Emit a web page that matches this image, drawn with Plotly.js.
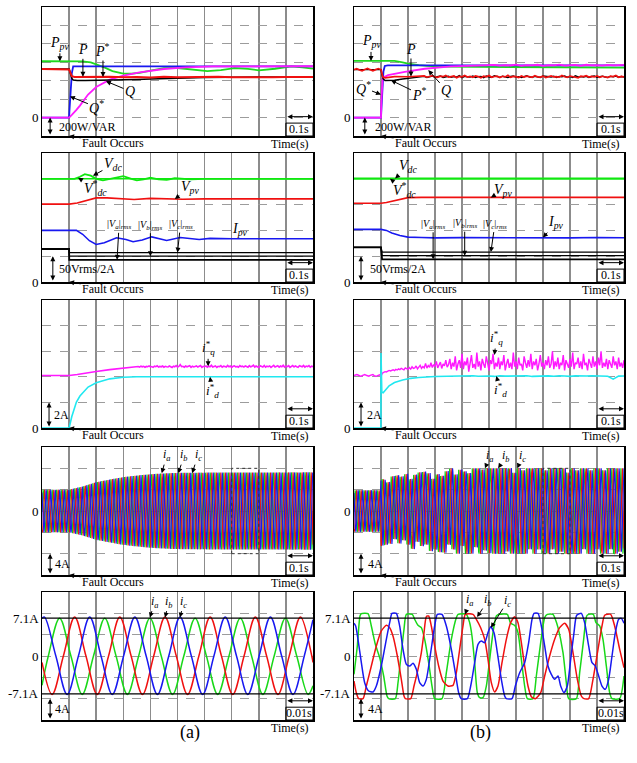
<!DOCTYPE html>
<html><head><meta charset="utf-8">
<script src="https://cdn.plot.ly/plotly-3.0.1.min.js"></script>
<style>html,body{margin:0;padding:0;background:#fff;}#chart{width:637px;height:763px;}</style>
</head><body><div id="chart"></div>
<script>
// ================= DATA =================
// ---- Row 1 (a): powers, W / VAR ----
const tPpvA = [0,0.10,0.15,0.18,0.20,0.23,0.26,0.30,0.33,0.36,0.40,0.45,0.50,0.55,0.61,0.66,0.71,0.76,0.80,0.86,0.92,0.96,1.00];
const PpvA  = [611,611,610,598,578,545,505,478,476,486,510,536,538,522,503,515,537,528,513,530,556,545,532];
const tQrefA = [0,0.100,0.101,0.103,0.106,0.110,0.115,1.0];
const QrefA  = [0,0,60,190,300,480,556,556];
const tQA = [0,0.100,0.110,0.120,0.127,0.140,0.152,0.170,0.200,0.250,0.300,0.360,0.450,0.530,0.630,1.0];
const QA  = [0,0,30,58,84,130,175,250,331,411,455,491,527,545,555,557];
const tPA = [0,0.095,0.100,0.103,0.106,0.110,0.120,0.150,0.200,0.250,0.300,0.350,0.400,0.450,0.500,0.550,0.600,0.650,0.700,0.750,0.800,0.850,0.900,0.950,1.0];
const PA  = [527,527,522,500,470,450,440,442,438,443,437,441,436,442,438,441,437,443,438,436,442,438,441,437,440];
const tPrefA = [0,0.100,0.103,0.106,0.110,0.115,0.130,0.160,0.200,0.250,0.300,0.350,0.400,0.450,0.500,0.550,0.600,0.700,0.800,1.0];
const PrefA  = [527,527,500,460,425,408,403,402,403,405,408,413,418,424,429,433,436,438,440,440];

// ---- Row 1 (b) ----
const tPpvB = [0,0.15,0.18,0.20,0.24,0.27,0.33,1.0];
const PpvB  = [615,615,600,586,570,560,553,541];
const tQrefB = [0,0.100,0.102,0.105,0.109,0.114,0.125,1.0];
const QrefB  = [0,0,120,330,500,560,567,567];
const tQB = [0,0.100,0.101,0.103,0.106,0.126,0.188,0.262,0.360,0.480];
const QB  = [0,0,150,350,431,460,497,530,556,567];
const QBripple = [572,563,570,565,574,562,569,566,573,561,570,567,575,563,568,571,562,573,566,570,564,572,567,569,571]; // from t=0.52, every 0.02 s
const tPB = [0,0.01,0.02,0.03,0.04,0.05,0.06,0.07,0.08,0.09,0.10,0.103,0.107,0.115,0.13,0.15,0.20];
const PB  = [520,530,518,508,522,533,520,508,520,532,520,470,440,430,438,445,443];
const PBnoise = [446,452,438,447,455,441,436,449,444,458,439,445,451,433,447,442,456,440,448,437,
  452,445,431,449,443,457,438,446,450,435,448,441,459,436,447,444,433,452,440,449,
  446,437,455,442,439,450,434,447,453,441,445,438,456,443,436,451,447,440,432,449,
  444,454,439,446,441,453,437,448,442,435,450,445,457,438,446,441]; // from t=0.25, every 0.01 s
const tPrefB = [0,0.100,0.103,0.108,0.115,0.130,0.150,0.180,0.210,0.240];
const PrefB  = [520,520,470,420,402,400,405,418,430,440];
const PrefBnoise = [440,447,435,444,450,438,445,452,436,443,449,437,446,440,455,434,448,442,439,451,
  436,444,447,433,450,441,438,453,445,437,449,442,435,446,451,439,444,436,448,454,
  440,437,447,443,435,452,446,439,441,449,434,447,442,450,438,445,436,453,441,444,
  439,448,435,446,452,437,443,449,440,436,447,442,451,438,445,440]; // from t=0.25, every 0.01 s

// ---- Row 2: voltages (V) and PV current (A); 50 V per div = 2 A per div ----
const V_PER_A = 25;
const tVdcA = [0,0.12,0.14,0.158,0.18,0.20,0.225,0.26,0.30,0.33,0.35,0.375,0.40,0.43,0.46,0.49,0.52,0.55,0.60,1.0];
const VdcA  = [200,200,204,209,206,200,197,201,205,200,197,199,202,199,198,201,200,199,200,200];
const tVdcRef = [0,1.0];
const VdcRef  = [200,200];
const tVpvA = [0,0.10,0.13,0.16,0.20,0.24,0.28,0.34,0.40,0.45,0.52,0.60,1.0];
const VpvA  = [151,151,153,157,163,163,161.5,160,162,161,160.5,161,161];
const tIpvA = [0,0.127,0.15,0.175,0.20,0.23,0.275,0.31,0.336,0.37,0.405,0.435,0.46,0.51,0.55,0.58,0.62,0.66,0.70,1.0];
const IpvA  = [4.0,4.0,3.7,3.2,2.91,3.05,3.43,3.3,3.12,3.25,3.5,3.35,3.22,3.45,3.35,3.3,3.38,3.34,3.35,3.35];
const tVrmsA = [0,0.1,0.1005,1.0];
const VaA = [64,64,43,43], VbA = [64,64,50,50], VcA = [64,64,57,57];
const tVdcB = [0,1.0];
const VdcB  = [200.5,200.5];
const tVpvB = [0,0.10,0.12,0.15,0.18,0.20,0.25,1.0];
const VpvB  = [152.5,152.5,154,158,162,163.5,164,164];
const tIpvB = [0,0.10,0.12,0.14,0.17,0.20,0.25,0.30,0.40,0.50,0.60,0.70,0.80,0.90,1.0];
const IpvB  = [4.08,4.08,4.0,3.8,3.6,3.48,3.45,3.42,3.44,3.43,3.45,3.44,3.42,3.45,3.43];
const tVrmsB = [0,0.1,0.104,1.0];
const VaB = [67,67,44,44], VbB = [67,67,51,51], VcB = [67,67,58,58];

// ---- Row 3: current references (A) ----
const tIqA0 = [0,0.05,0.10,0.13,0.16,0.20,0.25,0.30,0.35];
const IqA0  = [4.10,4.10,4.10,4.18,4.30,4.42,4.56,4.68,4.75];
const IqAnoise = [4.80,4.76,4.83,4.78,4.82,4.75,4.81,4.79,4.85,4.77,4.80,4.74,4.83,4.79,4.86,4.76,4.81,4.78,4.84,4.75,
  4.82,4.79,4.77,4.84,4.80,4.73,4.83,4.78,4.88,4.76,4.81,4.95,4.79,4.82,4.75,4.84,4.78,4.80,4.86,4.74,
  4.83,4.77,4.81,4.85,4.76,4.80,4.88,4.74,4.82,4.79,4.85,4.75,4.83,4.78,4.90,4.76,4.81,4.84,4.73,4.82,
  4.79,4.87,4.75,4.83,4.80,4.76,4.89,4.78,4.84,4.74,4.82,4.86,4.77,4.81,4.75,4.88,4.79,4.83,4.76,4.85,
  4.80,4.74,4.87,4.78,4.82,4.91,4.76,4.84,4.79,4.73,4.86,4.80,4.77,4.88,4.75,4.83,4.79,4.85,4.74,4.82,
  4.89,4.77,4.81,4.86,4.75,4.84,4.78,4.90,4.76,4.83,4.80,4.87,4.74,4.82,4.88,4.77,4.85,4.79,4.75,4.86,
  4.81,4.78,4.89,4.76,4.84,4.80,4.87,4.75,4.83,4.79]; // from t=0.355, every 0.005 s
const tIdA = [0,0.10,0.11,0.12,0.127,0.14,0.152,0.17,0.20,0.25,0.30,0.35,1.0];
const IdA  = [0,0,0.9,1.6,2.03,2.5,2.8,3.2,3.53,3.84,3.97,4.0,4.0];
const IqBpre = [4.10,4.15,4.18,4.14,4.07,4.04,4.09,4.16,4.18,4.12,4.06,4.05,4.11,4.17,4.17,4.10,4.05,4.07,4.14,4.16,4.05];
const IqBrise = [4.28,4.35,4.40,4.38,4.45,4.50,4.46,4.52,4.55,4.49,4.58,4.53,4.62,4.56,4.66,4.60,4.55,4.70,4.62,4.58,
  4.72,4.60,4.78,4.65,4.70,4.85,4.62,4.76,4.90,4.66,4.80,4.70,5.05,4.68,4.88,4.75,5.10,4.72,4.95,4.80,
  5.20,4.70,4.95,5.15,4.65,5.00,4.85,5.30,4.75,4.95];
const IqBnoise = [5.4,4.6,5.1,4.8,5.6,4.5,5.0,5.3,4.7,5.8,4.6,5.2,4.9,5.5,4.4,5.1,5.7,4.7,5.0,4.6,
  5.9,4.8,5.2,4.5,5.4,5.0,4.7,5.6,4.9,4.5,5.3,5.0,5.8,4.6,5.1,4.8,5.5,4.6,5.2,4.9,
  5.7,4.5,5.0,5.4,4.7,5.1,4.6,5.9,4.8,5.2,4.6,5.5,4.9,5.0,4.5,5.6,5.1,4.7,5.3,4.8,
  5.8,4.6,5.2,4.9,5.4,4.5,5.0,5.7,4.8,5.1,4.6,5.3,4.9,5.6,4.7,5.0,6.0,4.6,5.2,4.8,
  5.5,4.6,5.1,4.9,5.7,4.5,5.3,5.0,4.7,5.4,4.8,5.9,4.6,5.1,5.0,5.5,4.7,5.2,4.6,5.8,
  4.9,5.1,4.5,5.4,5.0,4.7,5.6,4.8,5.2,4.6,5.5,4.9,6.0,4.7,5.1,4.8,5.4,4.6,5.3,5.0,
  4.7,5.6,4.9,5.2,4.6,5.5,4.8,5.1,4.7,5.3]; // IqB sampled every 0.005 s from 0
const tIdB = [0,0.0998,0.100,0.101,0.103,0.108,0.115,0.13,0.15,0.18,0.21,0.24,0.30,0.36,0.40];
const IdB  = [0,0,5.85,3.6,2.8,2.75,2.9,3.3,3.55,3.75,3.88,3.95,4.02,4.06,4.07];
const IdBnoise = [4.05,4.08,4.04,4.07,4.06,4.03,4.08,4.05,4.07,4.04,4.06,4.08,4.03,4.06,4.05,4.07,4.04,4.08,4.06,4.03,
  4.07,4.05,4.06,4.08,4.05,4.06,4.04,3.82,4.05,4.06]; // from t=0.42, every 0.02 s

// ---- Row 4: 60 Hz phase currents, amplitude envelopes (A) ----
const F_GRID = 60;
const envTa = [0,0.10,0.15,0.20,0.25,0.30,0.35,0.40,0.45,0.50,0.60,1.0];
const envAa = [4.0,4.0,4.6,5.4,5.9,6.35,6.65,6.9,7.05,7.15,7.2,7.25];
const envTb = [0,0.0999,0.100,0.12,0.15,0.20,0.25,0.30,0.35,0.40,0.45,0.50,0.60,1.0];
const envAb = [3.9,3.9,6.6,6.3,6.6,7.0,7.3,7.6,7.9,8.2,8.5,8.8,9.0,9.0];
const clipB = 8.0;
const cycleVarB = [1,1,1,1,1,1,0.95,0.85,1.0,0.9,0.8,1.0,0.92,1.0,0.85,0.95,1.0,0.8,1.0,0.9,0.95,0.8,1.0,0.9,
  0.85,1.0,0.95,0.8,1.0,0.9,1.0,0.85,0.95,1.0,0.8,0.95,0.9,1.0,0.85,1.0,0.95,0.8,1.0,0.9,0.85,1.0,0.95,0.8,
  0.9,1.0,0.85,0.95,1.0,0.8,0.95,1.0,0.9,0.85,1.0,0.9];

// ---- Row 5 (a): zoomed phase currents, time in ms, A ----
const tIaZa = [0,2.33,6.5,10.67,14.83,19.0,23.17,27.33,31.5,35.67,39.83,44.0,48.17,52.33,56.5,60.67,64.83,69.0,73.17,77.33,81.5,85.67,89.83,94.0,98.17,100];
const IaZa  = [-5.5,0,7.1,0,-7.2,0,7.1,0,-7.2,0,7.1,0,-7.2,0,7.1,0,-7.2,0,7.1,0,-7.2,0,7.1,0,-7.2,-5.6];
const tIbZa = [0,3.72,7.89,12.06,16.22,20.39,24.56,28.72,32.89,37.06,41.22,45.39,49.56,53.72,57.89,62.06,66.22,70.39,74.56,78.72,82.89,87.06,91.22,95.39,99.56,100];
const IbZa  = [-1.2,-7.2,0,7.3,0,-7.2,0,7.3,0,-7.2,0,7.3,0,-7.2,0,7.3,0,-7.2,0,7.3,0,-7.2,0,7.3,0,-1.2];
const tIcZa = [0,0.94,5.11,9.28,13.44,17.61,21.78,25.94,30.11,34.28,38.44,42.61,46.78,50.94,55.11,59.28,63.44,67.61,71.78,75.94,80.11,84.28,88.44,92.61,96.78,100];
const IcZa  = [7.1,7.3,0,-7.2,0,7.3,0,-7.2,0,7.3,0,-7.2,0,7.3,0,-7.2,0,7.3,0,-7.2,0,7.3,0,-7.2,0,6.8];

// ---- Row 5 (b): zoomed distorted phase currents, time in ms, A ----
const tIaZb = [0,1.23,2.22,2.72,5.19,6.42,7.90,9.51,10.99,12.22,12.84,15.31,16.30,17.53,18.52,19.38,21.60,22.47,23.70,24.94,26.17,27.65,28.89,29.88,32.59,34.20,36.05,37.90,38.52,41.60,42.84,43.70,44.69,45.68,46.54,47.78,49.01,50.25,51.48,52.72,53.95,56.79,58.02,59.51,60.74,61.98,63.21,64.20,66.30,67.53,69.14,70.62,71.60,73.70,74.57,75.56,77.41,78.64,79.51,82.35,83.58,85.06,86.17,86.91,88.64,89.63,90.99,92.22,93.46,94.69,95.56,98.40,100];
const IaZb  = [-3.44,1.88,7.5,7.94,7.94,5.63,2.19,-0.31,-3.75,-7.5,-8.0,-8.0,-5.0,0.63,5.0,7.81,7.81,6.88,5.75,5.31,3.13,-1.25,-5.63,-8.0,-8.0,-3.13,3.13,7.19,7.81,7.81,6.25,3.75,-1.25,-6.88,-7.81,-7.81,-5.63,-0.63,4.38,7.5,7.81,7.81,6.13,5.75,4.38,-0.63,-5.63,-8.0,-8.0,-3.75,2.5,7.19,7.81,7.81,6.88,5.31,0.63,-5.0,-8.0,-8.0,-3.13,3.13,7.5,7.81,7.81,6.25,5.63,3.13,-1.88,-6.88,-8.0,-8.0,-3.75];
const tIbZb = [0,0.86,1.73,3.33,4.57,6.42,8.27,10.12,11.98,13.21,14.44,16.05,17.53,18.52,19.01,20.99,22.22,23.70,24.94,25.93,26.79,27.65,28.64,29.88,31.36,32.96,34.81,36.67,37.90,39.14,40.37,41.23,44.07,45.31,46.91,48.40,49.63,50.86,52.10,53.33,54.81,56.42,58.02,59.51,60.74,61.98,63.21,64.44,65.68,67.16,69.14,70.62,72.47,74.32,76.17,78.02,79.51,81.11,82.72,84.20,85.19,86.91,88.52,90.37,91.85,92.84,95.06,96.54,98.40,100];
const IbZb  = [-4.69,-6.88,-8.0,-8.0,-5.63,-1.88,1.88,4.69,5.75,5.31,3.75,0,-4.38,-7.5,-8.0,-8.0,-5.63,-2.5,0.63,4.38,7.38,7.5,5.63,1.88,-1.88,-4.69,-5.63,-5.5,-3.13,1.25,5.63,7.81,7.81,6.88,5.31,3.13,-0.63,-5.0,-6.75,-5.63,-1.25,3.13,6.25,7.38,6.25,2.5,-1.88,-5.63,-7.63,-8.0,-6.88,-3.75,0,3.13,5.31,6.13,5.0,0.63,-4.38,-7.5,-8.0,-8.0,-4.38,1.25,5.63,7.63,7.81,5.63,1.25,-2.19];
const tIcZb = [0,0.62,1.48,2.72,3.95,5.43,7.04,8.27,10.12,11.98,13.21,14.07,15.68,16.91,18.15,19.38,20.62,21.85,23.09,24.32,25.56,26.79,28.40,29.88,30.86,32.59,34.20,36.05,37.53,38.77,39.75,41.98,43.21,44.69,45.93,47.16,48.40,49.63,50.62,51.85,53.09,54.57,55.80,56.42,58.52,59.75,61.36,63.21,64.69,65.93,66.67,68.15,69.38,70.62,71.85,73.09,74.32,75.56,76.54,77.78,79.01,80.25,81.48,82.47,84.20,85.43,86.91,88.15,89.38,90.62,91.85,93.09,94.32,95.56,96.79,98.02,99.01,100];
const IcZb  = [6.13,5.63,3.13,-1.25,-5.0,-6.56,-6.75,-5.63,-1.88,3.13,6.25,8.0,8.0,5.63,1.25,-1.56,-1.88,-1.38,-2.5,-5.0,-5.63,-4.38,0.63,5.63,7.81,7.81,5.63,1.25,-3.13,-6.88,-8.0,-8.0,-5.63,-1.25,2.19,2.81,2.5,4.38,5.5,4.38,0.63,-4.38,-7.5,-8.0,-8.0,-5.63,-3.13,-1.25,2.5,6.88,8.0,8.0,5.63,1.88,-1.88,-3.44,-4.38,-3.75,-5.63,-6.88,-5.63,-0.63,4.38,7.63,8.0,6.25,1.88,-1.25,-1.88,-3.75,-5.63,-6.25,-4.38,0,4.38,6.88,7.06,6.13];
const refLevels5 = [7.1, -7.1];

// ================= HELPERS =================
const W = 637, H = 763;
const COLS = [[42, 313], [354, 624]];
const ROWS = [[7, 136], [153, 282], [300, 428], [447, 575], [592, 720]];
const FONT = 'Liberation Serif, Times New Roman, serif';
const GREEN = '#1fd81f', GREEN2 = '#10e810', RED = '#f01010', BLUE = '#1818f0', MAG = '#ff18ff', CYAN = '#20e8f0';

function seq(t0, dt, n){ const a=[]; for(let i=0;i<n;i++) a.push(+(t0+i*dt).toFixed(6)); return a; }
function interp(xs, ys, x){ if(x<=xs[0]) return ys[0]; for(let i=1;i<xs.length;i++){ if(x<=xs[i]){ const f=(x-xs[i-1])/(xs[i]-xs[i-1]); return ys[i-1]+f*(ys[i]-ys[i-1]); } } return ys[ys.length-1]; }
function axId(k){ return k===1 ? '' : String(k); }

const layout = {width:W, height:H, margin:{l:0,r:0,t:0,b:0}, paper_bgcolor:'#fff', plot_bgcolor:'#fff',
  showlegend:false, hovermode:false, annotations:[], shapes:[]};
const yCfg = [{range:[-200,1200], dtick:200, tick0:-200}, {range:[0,250], dtick:50, tick0:0},
  {range:[0,10], dtick:2, tick0:0}, {range:[-12,12], dtick:4, tick0:-12}, {range:[-12,12], dtick:4, tick0:-12}];
for (let r=0;r<5;r++) for (let c=0;c<2;c++){
  const k=r*2+c+1, id=axId(k);
  layout['xaxis'+id] = Object.assign({domain:[COLS[c][0]/W, COLS[c][1]/W], anchor:'y'+id, tick0:0,
    showgrid:true, gridcolor:'#8c8c8c', gridwidth:1.5, showline:true, mirror:true, linecolor:'#000', linewidth:1.5,
    showticklabels:false, ticks:'', zeroline:false, fixedrange:true}, r===4 ? {range:[0,100], dtick:10} : {range:[0,1], dtick:0.1});
  layout['yaxis'+id] = Object.assign({domain:[1-ROWS[r][1]/H, 1-ROWS[r][0]/H], anchor:'x'+id,
    showgrid:true, gridcolor:'#9c9c9c', griddash:'dash', gridwidth:1, showline:true, mirror:true, linecolor:'#000', linewidth:1.5,
    showticklabels:false, ticks:'', zeroline:false, fixedrange:true}, yCfg[r]);
}

const traces = [];
function tr(k, x, y, color, width, shape, smoothing){
  const id=axId(k);
  traces.push({type:'scatter', mode:'lines', x, y, xaxis:'x'+id, yaxis:'y'+id,
    line:{color, width, shape:shape||'linear', smoothing:smoothing||1}, hoverinfo:'skip'});
}
function scaleY(arr, f){ return arr.map(v=>v*f); }

function lab(k, x, y, text, ax, ay, size){
  const id=axId(k);
  layout.annotations.push({xref:'x'+id, yref:'y'+id, x, y, text, ax, ay, showarrow:true, arrowhead:2,
    arrowsize:1, arrowwidth:1, arrowcolor:'#000', font:{family:FONT, size:size||13, color:'#000'}});
}
function scaleBar(k, fx, y0, y1, text, tx){
  const id=axId(k);
  layout.annotations.push({xref:'x'+id+' domain', yref:'y'+id, x:fx, y:y1, axref:'x'+id+' domain', ayref:'y'+id,
    ax:fx, ay:y0, text:'', showarrow:true, arrowhead:2, startarrowhead:2, arrowside:'end+start',
    arrowsize:1, startarrowsize:1, arrowwidth:1, arrowcolor:'#000', font:{family:FONT, size:12, color:'#000'}});
  layout.annotations.push({xref:'x'+id+' domain', yref:'y'+id, x:tx, y:(y0+y1)/2, text, showarrow:false,
    xanchor:'left', font:{family:FONT, size:12, color:'#000'}});
}
function timeScale(k, x0, x1, text){
  const id=axId(k);
  layout.shapes.push({type:'rect', xref:'x'+id, yref:'y'+id+' domain', x0, x1, y0:0, y1:0.1, line:{color:'#000', width:1}});
  layout.annotations.push({xref:'x'+id, yref:'y'+id+' domain', x:x1, y:0.15, axref:'x'+id, ayref:'y'+id+' domain',
    ax:x0, ay:0.15, text:'', showarrow:true, arrowhead:2, startarrowhead:2, arrowside:'end+start',
    arrowsize:1, startarrowsize:1, arrowwidth:1, arrowcolor:'#000', font:{family:FONT, size:12, color:'#000'}});
  layout.annotations.push({xref:'x'+id, yref:'y'+id+' domain', x:(x0+x1)/2, y:0.0, yanchor:'bottom', yshift:-2, text,
    showarrow:false, font:{family:FONT, size:12, color:'#000'}});
}
function fault(k, xf, ax, ay){
  const id=axId(k);
  layout.annotations.push({xref:'x'+id, yref:'y'+id+' domain', x:xf, y:0, ax, ay, text:'Fault Occurs',
    showarrow:true, arrowhead:2, arrowsize:1, arrowwidth:1, arrowcolor:'#000', font:{family:FONT, size:12, color:'#000'}});
}
function timeLabel(k){
  const id=axId(k);
  layout.annotations.push({xref:'x'+id+' domain', yref:'y'+id+' domain', x:1, y:0, xanchor:'right', yanchor:'top',
    xshift:-2, yshift:1, text:'Time(s)', showarrow:false, font:{family:FONT, size:12, color:'#000'}});
}
function yLabel(k, y, text){
  const id=axId(k);
  layout.annotations.push({xref:'x'+id+' domain', yref:'y'+id, x:0, y, xanchor:'right', xshift:-1, text,
    showarrow:false, font:{family:FONT, size:13, color:'#000'}});
}

// ================= TRACES =================
// Row 1
tr(1, tPpvA, PpvA, GREEN, 1.8);
tr(1, tQrefA, QrefA, BLUE, 1.8);
tr(1, tQA, QA, MAG, 1.8);
tr(1, tPrefA, PrefA, '#000', 1.6);
tr(1, tPA, PA, RED, 2);

tr(2, tPpvB, PpvB, GREEN, 1.8);
tr(2, tQrefB, QrefB, BLUE, 1.8);
tr(2, tQB.concat(seq(0.52,0.02,QBripple.length)), QB.concat(QBripple), MAG, 1.8);
tr(2, tPrefB.concat(seq(0.25,0.01,PrefBnoise.length)), PrefB.concat(PrefBnoise), '#000', 1.4);
tr(2, tPB.concat(seq(0.25,0.01,PBnoise.length)), PB.concat(PBnoise), RED, 1.7);

// Row 2
tr(3, tVdcRef, VdcRef, GREEN2, 1.6);
tr(3, tVdcA, VdcA, GREEN2, 1.8);
tr(3, tVpvA, VpvA, RED, 1.6);
tr(3, tIpvA, scaleY(IpvA, V_PER_A), BLUE, 1.6);
tr(3, tVrmsA, VcA, '#000', 1.2);
tr(3, tVrmsA, VbA, '#000', 1.2);
tr(3, tVrmsA, VaA, '#000', 1.8);

tr(4, tVdcRef, VdcRef, GREEN2, 1.6);
tr(4, tVdcB, VdcB, GREEN2, 2);
tr(4, tVpvB, VpvB, RED, 1.6);
tr(4, tIpvB, scaleY(IpvB, V_PER_A), BLUE, 1.6);
tr(4, tVrmsB, VcB, '#000', 1.2);
tr(4, tVrmsB, VbB, '#000', 1.2);
tr(4, tVrmsB, VaB, '#000', 1.8);

// Row 3
tr(5, tIqA0.concat(seq(0.355,0.005,IqAnoise.length)), IqA0.concat(IqAnoise), MAG, 1.6);
tr(5, tIdA, IdA, CYAN, 1.6);
const IqB = IqBpre.concat(IqBrise, IqBnoise);
tr(6, seq(0,0.005,IqB.length), IqB, MAG, 1.4);
tr(6, tIdB.concat(seq(0.42,0.02,IdBnoise.length)), IdB.concat(IdBnoise), CYAN, 1.6);

// Row 4: three-phase currents from the envelopes
function phases(envT, envA, varF, clip){
  const N=2500, t=[], out=[[],[],[]];
  for(let i=0;i<=N;i++){
    const tt=i/N; t.push(tt);
    const A=interp(envT, envA, tt);
    for(let p=0;p<3;p++){
      let amp=A;
      if(varF && tt>0.1){ const idx=Math.floor(2*F_GRID*tt - 2*p/3); amp*=varF[((idx%varF.length)+varF.length)%varF.length]; }
      let v=amp*Math.sin(2*Math.PI*F_GRID*tt - p*2*Math.PI/3);
      if(clip) v=Math.max(-clip, Math.min(clip, v));
      out[p].push(v);
    }
  }
  return {t, a:out[0], b:out[1], c:out[2]};
}
const PhA = phases(envTa, envAa, null, null);
tr(7, PhA.t, PhA.a, '#10d010', 1.1); tr(7, PhA.t, PhA.b, RED, 1.1); tr(7, PhA.t, PhA.c, BLUE, 1.1);
const PhB = phases(envTb, envAb, cycleVarB, clipB);
tr(8, PhB.t, PhB.a, '#10d010', 1.1); tr(8, PhB.t, PhB.b, RED, 1.1); tr(8, PhB.t, PhB.c, BLUE, 1.1);

// Row 5
tr(9, tIaZa, IaZa, '#18d818', 1.5, 'spline', 1);
tr(9, tIbZa, IbZa, RED, 1.5, 'spline', 1);
tr(9, tIcZa, IcZa, BLUE, 1.5, 'spline', 1);
tr(10, tIaZb, IaZb, '#18d818', 1.5, 'spline', 0.6);
tr(10, tIbZb, IbZb, RED, 1.5, 'spline', 0.6);
tr(10, tIcZb, IcZb, BLUE, 1.5, 'spline', 0.6);

// ================= ORNAMENTS =================
const PPV='<i>P<sub>pv</sub></i>', PP='<i>P</i>', PS='<i>P</i><sup>*</sup>', QQ='<i>Q</i>', QS='<i>Q</i><sup>*</sup>';
const VDC='<i>V<sub>dc</sub></i>', VDCS='<i>V</i><sup>*</sup><sub><i>dc</i></sub>', VPV='<i>V<sub>pv</sub></i>', IPV='<i>I<sub>pv</sub></i>';
const VA='|<i>V<sub>a</sub></i>|<sub><i>rms</i></sub>', VB='|<i>V<sub>b</sub></i>|<sub><i>rms</i></sub>', VC='|<i>V<sub>c</sub></i>|<sub><i>rms</i></sub>';
const IQS='<i>i</i><sup>*</sup><sub><i>q</i></sub>', IDS='<i>i</i><sup>*</sup><sub><i>d</i></sub>';
const IA='<i>i<sub>a</sub></i>', IB='<i>i<sub>b</sub></i>', IC='<i>i<sub>c</sub></i>';

lab(1, 0.066, 611, PPV, 0, -18, 14); lab(1, 0.151, 442, PP, 0, -27, 14); lab(1, 0.225, 440, PS, 0, -27, 14);
lab(1, 0.236, 395, QQ, 24, 10, 14); lab(1, 0.103, 230, QS, 27, 11, 14);
lab(2, 0.063, 615, PPV, 0, -19, 14); lab(2, 0.211, 446, PP, 0, -27, 14); lab(2, 0.137, 405, PS, 29, 14, 14);
lab(2, 0.275, 515, QQ, 18, 20, 14); lab(2, 0.1, 250, QS, -18, -7, 14);

lab(3, 0.188, 206, VDC, 20, -11, 14); lab(3, 0.133, 202, VDCS, 17, 10, 14); lab(3, 0.49, 161, VPV, 15, -11, 14);
lab(3, 0.693, 3.35*V_PER_A, IPV, 10, -9, 14);
lab(3, 0.277, 43, VA, 2, -35, 10); lab(3, 0.40, 50, VB, 0, -31, 10); lab(3, 0.50, 57, VC, 3, -28, 10);
lab(4, 0.152, 200.5, VDC, 13, -12, 14); lab(4, 0.133, 200, VDCS, 15, 11, 14); lab(4, 0.507, 164, VPV, 12, -7, 14);
lab(4, 0.70, 3.44*V_PER_A, IPV, 13, -15, 14);
lab(4, 0.293, 44, VA, 0, -35, 10); lab(4, 0.41, 51, VB, 0, -32, 10); lab(4, 0.507, 58, VC, 4, -28, 10);

lab(5, 0.613, 4.82, IQS, 0, -18, 13); lab(5, 0.62, 4.0, IDS, 2, 14, 13);
lab(6, 0.52, 5.7, IQS, 2, -17, 13); lab(6, 0.527, 4.06, IDS, 4, 14, 13);

lab(7, 0.442, 7.1, IA, 5, -18, 12); lab(7, 0.503, 7.1, IB, 6, -18, 12); lab(7, 0.554, 7.1, IC, 6, -18, 12);
lab(8, 0.485, 8.0, IA, 5, -12, 12); lab(8, 0.534, 8.0, IB, 8, -12, 12); lab(8, 0.605, 8.0, IC, 5, -12, 12);
lab(9, 39.8, 7.2, IA, 5, -16, 12); lab(9, 45.4, 7.2, IB, 4, -16, 12); lab(9, 50.9, 7.2, IC, 4, -16, 12);
lab(10, 41.1, 7.8, IA, 5, -14, 12); lab(10, 45.6, 7.3, IB, 11, -17, 12); lab(10, 50.7, 5.3, IC, 17, -27, 12);

scaleBar(1, 0.03, -200, 0, '200W/VAR', 0.055); scaleBar(2, 0.04, -200, 0, '200W/VAR', 0.07);
scaleBar(3, 0.04, 0, 50, '50Vrms/2A', 0.055); scaleBar(4, 0.026, 0, 50, '50Vrms/2A', 0.052);
scaleBar(5, 0.026, 0, 2, '2A', 0.037); scaleBar(6, 0.026, 0, 2, '2A', 0.04);
scaleBar(7, 0.03, -12, -8, '4A', 0.04); scaleBar(8, 0.026, -12, -8, '4A', 0.044);
scaleBar(9, 0.03, -12, -8, '4A', 0.04); scaleBar(10, 0.026, -12, -8, '4A', 0.044);

for (let k=1;k<=8;k++){ timeScale(k, 0.9, 1.0, '0.1s'); fault(k, 0.1, k%2 ? 44 : 45, 7); }
timeScale(9, 90, 100, '0.01s'); timeScale(10, 90, 100, '0.01s');
for (let k=1;k<=10;k++) timeLabel(k);
for (let k=1;k<=8;k++) yLabel(k, 0, '0');
for (const k of [9,10]){ yLabel(k, refLevels5[0], '7.1A'); yLabel(k, 0, '0'); yLabel(k, refLevels5[1], '-7.1A');
  for (const lv of refLevels5) layout.shapes.push({type:'line', xref:'x'+axId(k)+' domain', yref:'y'+axId(k), x0:0, x1:1, y0:lv, y1:lv, line:{color:'#000', width:1.3}});
}
for (const k of [7,8]) layout.shapes.push({type:'rect', xref:'x'+axId(k), yref:'y'+axId(k), x0:0.7, x1:0.8, y0:-8, y1:8, line:{color:'#333', width:1, dash:'dot'}});

layout.annotations.push({xref:'paper', yref:'paper', x:178/W, y:1-745/H, text:'(a)', showarrow:false, font:{family:FONT, size:18, color:'#000'}});
layout.annotations.push({xref:'paper', yref:'paper', x:493/W, y:1-745/H, text:'(b)', showarrow:false, font:{family:FONT, size:18, color:'#000'}});

Plotly.newPlot('chart', traces, layout, {staticPlot:true, displayModeBar:false});
</script>
</body></html>
